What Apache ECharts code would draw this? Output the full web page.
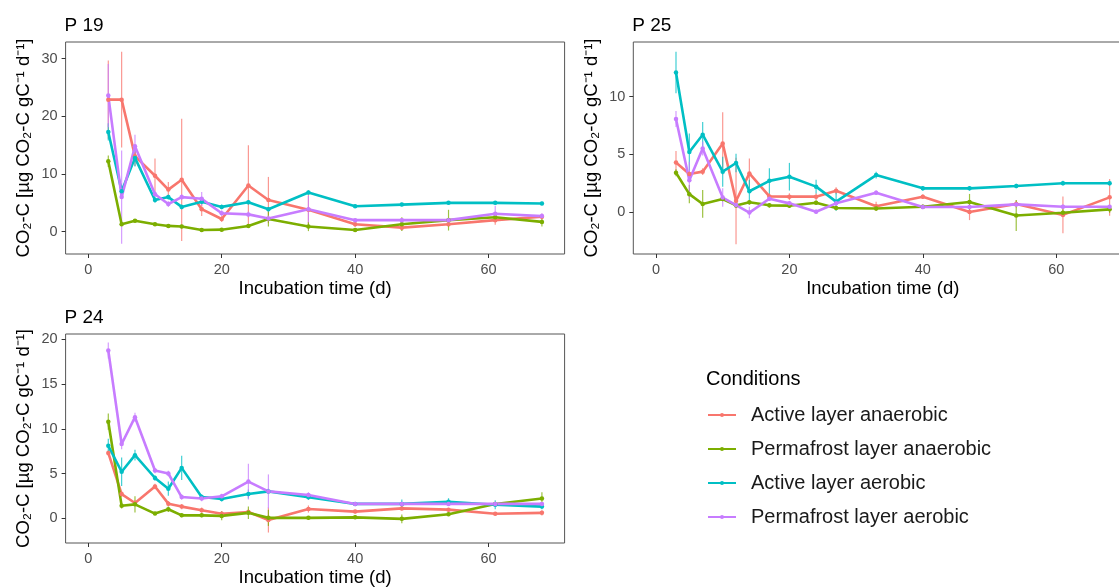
<!DOCTYPE html>
<html>
<head>
<meta charset="utf-8">
<script src="https://cdn.jsdelivr.net/npm/echarts@6/dist/echarts.min.js"></script>
<style>
  html, body { margin: 0; padding: 0; background: #fff; overflow: hidden; }
  /* wider than the window: the right panel is cut off in the reference */
  #main { width: 1150px; height: 588px; }
</style>
</head>
<body>
<div id="main"></div>
<script>
// incubation days (x)
const days = [3, 5, 7, 10, 12, 14, 17, 20, 24, 27, 33, 40, 47, 54, 61, 68]

const conditions = ['Active layer anaerobic', 'Permafrost layer anaerobic', 'Active layer aerobic', 'Permafrost layer aerobic']
const colors = ['#F8766D', '#7CAE00', '#00BFC4', '#C77CFF']

// P 19
const p19Red = [22.9, 22.9, 13.1, 9.7, 7.3, 9.0, 3.9, 2.2, 8.0, 5.5, 3.8, 1.3, 0.7, 1.3, 2.0, 2.6]
const p19RedErr = [6.8, 8.3, 1.7, 3.0, 1.3, 10.6, 1.2, 0.5, 7.0, 4.0, 2.6, 0.5, 0.5, 0.5, 0.8, 0.5]
const p19Green = [12.2, 1.3, 1.9, 1.3, 1.0, 0.9, 0.3, 0.35, 1.0, 2.2, 0.9, 0.3, 1.3, 2.0, 2.5, 1.7]
const p19GreenErr = [1.0, 0.3, 0.3, 0.3, 0.3, 0.3, 0.3, 0.3, 0.3, 1.3, 0.8, 0.3, 1.2, 1.8, 0.5, 0.8]
const p19Cyan = [17.3, 7.0, 12.8, 5.5, 6.0, 4.3, 5.2, 4.3, 5.1, 3.9, 6.8, 4.4, 4.7, 5.0, 5.0, 4.9]
const p19CyanErr = [1.5, 1.0, 1.5, 0.5, 0.4, 0.4, 0.4, 0.4, 0.4, 0.4, 0.4, 0.3, 0.3, 0.3, 0.3, 0.3]
const p19Purple = [23.6, 6.0, 14.8, 6.5, 4.8, 6.0, 5.7, 3.2, 3.0, 2.3, 3.9, 2.0, 2.0, 2.0, 3.1, 2.7]
const p19PurpleErr = [5.5, 8.1, 2.0, 0.5, 0.5, 0.5, 1.2, 0.5, 0.5, 0.5, 2.3, 0.3, 0.3, 0.3, 1.4, 0.5]

// P 25
const p25Red = [4.3, 3.3, 3.5, 5.95, 0.95, 3.35, 1.35, 1.33, 1.33, 1.85, 0.5, 1.33, 0.0, 0.7, -0.25, 1.27]
const p25RedErr = [1.0, 0.3, 0.3, 2.7, 3.75, 1.3, 0.3, 0.3, 0.3, 0.3, 0.4, 0.2, 0.7, 0.3, 1.6, 1.6]
const p25Green = [3.4, 1.55, 0.7, 1.13, 0.57, 0.84, 0.58, 0.55, 0.8, 0.35, 0.3, 0.46, 0.87, -0.3, -0.06, 0.23]
const p25GreenErr = [0.3, 0.8, 1.2, 0.2, 0.2, 0.2, 0.2, 0.2, 0.2, 0.2, 0.2, 0.2, 0.7, 1.35, 0.3, 0.3]
const p25Cyan = [12.1, 5.2, 6.7, 3.5, 4.25, 1.8, 2.7, 3.06, 2.2, 0.9, 3.2, 2.05, 2.05, 2.25, 2.5, 2.5]
const p25CyanErr = [1.8, 1.6, 1.1, 1.3, 0.8, 1.0, 1.1, 1.2, 0.6, 0.8, 0.3, 0.2, 0.2, 0.2, 0.2, 0.2]
const p25Purple = [8.06, 2.75, 5.5, 1.25, 0.6, -0.05, 1.15, 0.75, 0.02, 0.75, 1.68, 0.43, 0.43, 0.66, 0.46, 0.46]
const p25PurpleErr = [0.7, 1.6, 0.6, 0.8, 0.2, 0.5, 0.2, 0.2, 0.2, 0.2, 0.2, 0.2, 0.2, 0.2, 0.2, 0.2]

// P 24
const p24Red = [7.3, 2.7, 1.7, 3.55, 1.63, 1.3, 0.9, 0.5, 0.7, -0.2, 1.03, 0.74, 1.1, 0.96, 0.5, 0.6]
const p24RedErr = [0.3, 0.3, 0.3, 0.3, 0.3, 0.3, 0.3, 0.3, 0.3, 1.4, 0.4, 0.2, 0.2, 0.2, 0.2, 0.3]
const p24Green = [10.8, 1.4, 1.55, 0.52, 1.0, 0.32, 0.32, 0.26, 0.6, 0.04, 0.04, 0.1, -0.07, 0.44, 1.6, 2.2]
const p24GreenErr = [0.9, 0.3, 0.9, 0.2, 0.3, 0.2, 0.2, 0.5, 0.7, 0.9, 0.2, 0.2, 0.5, 0.2, 0.2, 0.7]
const p24Cyan = [8.1, 5.2, 7.05, 4.5, 3.3, 5.63, 2.37, 2.16, 2.7, 3.0, 2.35, 1.6, 1.6, 1.84, 1.5, 1.3]
const p24CyanErr = [0.8, 1.6, 0.6, 0.3, 0.8, 1.35, 0.3, 0.3, 0.5, 0.3, 0.3, 0.2, 0.5, 0.4, 0.5, 0.3]
const p24Purple = [18.75, 8.3, 11.3, 5.33, 5.0, 2.37, 2.2, 2.45, 4.1, 3.0, 2.6, 1.6, 1.6, 1.6, 1.6, 1.6]
const p24PurpleErr = [0.9, 0.6, 0.5, 0.3, 0.3, 0.3, 0.3, 0.3, 2.0, 1.9, 0.3, 0.2, 0.2, 0.2, 0.2, 0.2]

// tick labels
const xTicks = [0, 20, 40, 60]
const p19YTicks = [0, 10, 20, 30]
const p25YTicks = [0, 5, 10]
const p24YTicks = [0, 5, 10, 15, 20]

const panels = [
  { title: 'P 19', vals: [p19Red, p19Green, p19Cyan, p19Purple], errs: [p19RedErr, p19GreenErr, p19CyanErr, p19PurpleErr], yTicks: p19YTicks, ymin: -3.87, ymax: 32.9, left: 65.6, top: 42, height: 212 },
  { title: 'P 25', vals: [p25Red, p25Green, p25Cyan, p25Purple], errs: [p25RedErr, p25GreenErr, p25CyanErr, p25PurpleErr], yTicks: p25YTicks, ymin: -3.64, ymax: 14.74, left: 633.3, top: 42, height: 212 },
  { title: 'P 24', vals: [p24Red, p24Green, p24Cyan, p24Purple], errs: [p24RedErr, p24GreenErr, p24CyanErr, p24PurpleErr], yTicks: p24YTicks, ymin: -2.77, ymax: 20.6, left: 65.6, top: 334, height: 211 }
]

const font = 'Liberation Sans, Arial, sans-serif'
const yName = 'CO\u2082-C [\u00b5g CO\u2082-C gC\u207b\u00b9 d\u207b\u00b9]'

const myChart = echarts.init(document.getElementById('main'), null, { renderer: 'canvas' })

const grid = []
const xAxis = []
const yAxis = []
const series = []
const title = []

panels.forEach((p, i) => {
  title.push({
    text: p.title,
    left: p.left - 1,
    top: p.top - 26,
    padding: 0,
    textStyle: { fontSize: 19, fontWeight: 'normal', color: '#000', fontFamily: font }
  })
  grid.push({
    left: p.left,
    top: p.top,
    width: 499,
    height: p.height,
    show: true,
    borderColor: '#555',
    borderWidth: 1,
    backgroundColor: 'transparent'
  })
  xAxis.push({
    type: 'value',
    gridIndex: i,
    min: -3.4,
    max: 71.4,
    name: 'Incubation time (d)',
    nameLocation: 'middle',
    nameGap: 25,
    nameTextStyle: { fontSize: 18.5, color: '#000', fontFamily: font },
    axisLine: { show: false, onZero: false },
    axisTick: { show: true, length: 4, lineStyle: { color: '#333' }, customValues: xTicks },
    axisLabel: { color: '#4D4D4D', fontSize: 14.5, margin: 8, fontFamily: font, customValues: xTicks },
    splitLine: { show: false }
  })
  yAxis.push({
    type: 'value',
    gridIndex: i,
    min: p.ymin,
    max: p.ymax,
    name: yName,
    nameLocation: 'middle',
    nameRotate: 90,
    nameGap: 32,
    nameTextStyle: { fontSize: 18.5, color: '#000', fontFamily: font },
    axisLine: { show: false, onZero: false },
    axisTick: { show: true, length: 4, lineStyle: { color: '#333' }, customValues: p.yTicks },
    axisLabel: { color: '#4D4D4D', fontSize: 14.5, margin: 8, fontFamily: font, customValues: p.yTicks },
    splitLine: { show: false }
  })

  // error bars first, lines on top
  p.vals.forEach((v, k) => {
    series.push({
      name: conditions[k] + ' sd',
      type: 'custom',
      xAxisIndex: i,
      yAxisIndex: i,
      z: 1,
      silent: true,
      data: days.map((d, j) => [d, v[j] - p.errs[k][j], v[j] + p.errs[k][j]]),
      encode: { x: 0, y: [1, 2] },
      renderItem: function (params, api) {
        const a = api.coord([api.value(0), api.value(1)])
        const b = api.coord([api.value(0), api.value(2)])
        return {
          type: 'line',
          shape: { x1: a[0], y1: a[1], x2: b[0], y2: b[1] },
          style: { stroke: colors[k], lineWidth: 1.2, opacity: 0.75 }
        }
      }
    })
  })
  p.vals.forEach((v, k) => {
    series.push({
      name: conditions[k],
      type: 'line',
      xAxisIndex: i,
      yAxisIndex: i,
      z: 2,
      color: colors[k],
      symbol: 'circle',
      symbolSize: 4.5,
      lineStyle: { width: 2.6, color: colors[k] },
      itemStyle: { color: colors[k] },
      data: days.map((d, j) => [d, v[j]])
    })
  })
})

title.push({
  text: 'Conditions',
  left: 706,
  top: 369,
  padding: 0,
  textStyle: { fontSize: 20, fontWeight: 'normal', color: '#000', fontFamily: font }
})

const option = {
  animation: false,
  title: title,
  grid: grid,
  xAxis: xAxis,
  yAxis: yAxis,
  legend: {
    data: conditions,
    orient: 'vertical',
    left: 707,
    top: 405,
    padding: 0,
    itemWidth: 28,
    itemHeight: 5,
    itemGap: 14,
    textStyle: { fontSize: 20, color: '#1a1a1a', fontFamily: font, padding: [0, 0, 0, 10] }
  },
  series: series
}

myChart.setOption(option)
</script>
</body>
</html>
